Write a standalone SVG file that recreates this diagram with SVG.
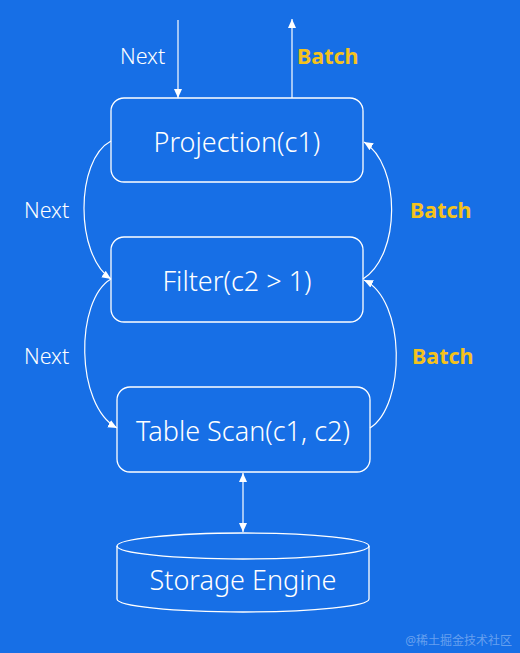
<svg xmlns="http://www.w3.org/2000/svg" width="520" height="653" viewBox="0 0 520 653">
<defs>
<style>
.box{fill:none;stroke:#ffffff;stroke-width:1.3}
.lbl{font-family:"Noto Sans","Open Sans",sans-serif;font-weight:300;fill:#ffffff;text-anchor:middle}
.node{font-size:27px}
.next{font-size:21.5px;font-weight:300;fill:#ffffff;font-family:"Noto Sans","Open Sans",sans-serif}
.batch{font-size:21.5px;font-weight:bold;fill:#f4c21c;font-family:"Noto Sans","Open Sans",sans-serif}
.con{fill:none;stroke:#ffffff;stroke-width:1.2}
</style>
<marker id="ah" markerWidth="10" markerHeight="10" refX="9" refY="5" orient="auto-start-reverse" markerUnits="userSpaceOnUse">
<path d="M0,1 L9,5 L0,9 Z" fill="#ffffff"/>
</marker>
</defs>
<rect x="0" y="0" width="520" height="653" fill="#176fe6"/>
<g id="connectors">
<line class="con" x1="178" y1="20" x2="178" y2="98" marker-end="url(#ah)"/>
<line class="con" x1="292" y1="98" x2="292" y2="19" marker-end="url(#ah)"/>
<path class="con" d="M111,141 C75,160 75,255 111,279" marker-end="url(#ah)"/>
<path class="con" d="M111,279 C75,300 75,405 117,428" marker-end="url(#ah)"/>
<path class="con" d="M363,279 C401,255 401,165 364,142" marker-end="url(#ah)"/>
<path class="con" d="M370,428 C406,405 406,300 364,280" marker-end="url(#ah)"/>
<line class="con" x1="243" y1="473" x2="243" y2="532" marker-start="url(#ah)" marker-end="url(#ah)"/>
<text class="next" x="120" y="64">Next</text>
<text class="batch" x="297" y="64">Batch</text>
<text class="next" x="24" y="218">Next</text>
<text class="batch" x="410" y="218">Batch</text>
<text class="next" x="24" y="364">Next</text>
<text class="batch" x="412" y="364">Batch</text>
</g>
<g id="projection">
<rect class="box" x="111" y="98" width="252" height="84" rx="13"/>
<text class="lbl node" x="237" y="152">Projection(c1)</text>
</g>
<g id="filter">
<rect class="box" x="111" y="237" width="252" height="85" rx="13"/>
<text class="lbl node" x="237" y="291">Filter(c2 &gt; 1)</text>
</g>
<g id="tablescan">
<rect class="box" x="117" y="387" width="253" height="85" rx="13"/>
<text class="lbl node" x="243" y="441">Table Scan(c1, c2)</text>
</g>
<g id="storage">
<path class="box" d="M117,546 L117,599 A126,13 0 0 0 369,599 L369,546"/>
<ellipse class="box" cx="243" cy="546" rx="126" ry="13"/>
<text class="lbl node" x="243" y="590">Storage Engine</text>
</g>
<text x="512" y="645" text-anchor="end" font-family="'Noto Sans','Noto Sans CJK SC',sans-serif" font-size="12" fill="#ffffff" fill-opacity="0.35">@稀土掘金技术社区</text>
</svg>
